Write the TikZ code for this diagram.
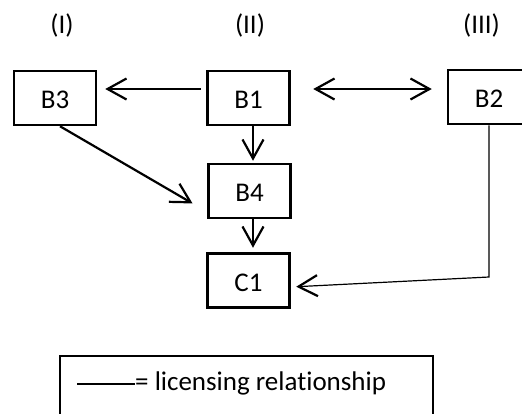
\documentclass[tikz,border=0pt]{standalone}
\usepackage{fontspec}
\setmainfont{Carlito}[Ligatures = NoCommon]
\usetikzlibrary{arrows.meta}

\begin{document}
\begin{tikzpicture}[x = 1pt, y = -1pt,
		font = \fontsize{27}{32}\selectfont,
		box/.style = {draw, line width = 2.5pt, minimum width = 82pt, minimum height = 54pt, inner sep = 0pt, text height = 21pt, text depth = 0pt},
		arr/.style = {line width = 2.2pt, -{Straight Barb[length = 19pt, width = 21pt, line width = 2.2pt]}},
		darr/.style = {line width = 2.2pt, {Straight Barb[length = 19pt, width = 21pt]}-{Straight Barb[length = 19pt, width = 21pt]}}]
	\useasboundingbox (0, 0) rectangle (522, 413);
	
	\foreach \x/\t in {62/I, 250/II, 481.5/III} {
		\node (col\t) at (\x, 25) {(\t)};
	}
	
	\node[box] (b3) at (55, 98) {B3};
	\node[box] (b1) at (248.5, 98) {B1};
	\node[box] (b2) at (489, 97) {B2};
	\node[box] (b4) at (249.5, 191) {B4};
	\node[box] (c1) at (248.5, 280.5) {C1};
	
	\draw[arr, shorten <= 5.5pt, shorten >= 8pt] ([yshift = 9pt]b1.west) -- ([yshift = 9pt]b3.east);
	\draw[darr, shorten <= 22.5pt, shorten >= 15pt] ([yshift = 9pt]b1.east) -- ([yshift = 9pt]b1.east -| b2.west);
	\draw[arr, shorten >= 2pt] ([xshift = 4.5pt]b1.south) -- ([xshift = 4.5pt]b1.south |- b4.north);
	\draw[arr, shorten >= 4.5pt] ([xshift = 3.5pt]b4.south) -- ([xshift = 3.5pt]b4.south |- c1.north);
	\draw[arr, shorten >= 17pt] ([xshift = 5pt]b3.south) -- ([yshift = -21pt]b4.west);
	
	\coordinate (bend) at (489, 277);
	\draw[arr, line width = 1.2pt, shorten >= 5.5pt] (b2.south) -- (bend) -- ([yshift = -6.5pt]c1.east);
	
	\draw[line width = 1.2pt] (60, 356) rectangle (433, 430);
	\node[anchor = base west, inner sep = 0pt] (key) at (135, 390) {= licensing relationship};
	\coordinate (keyline) at (77, 384);
	\draw[line width = 1.2pt] (keyline) -- (keyline -| key.west);
\end{tikzpicture}
\end{document}
